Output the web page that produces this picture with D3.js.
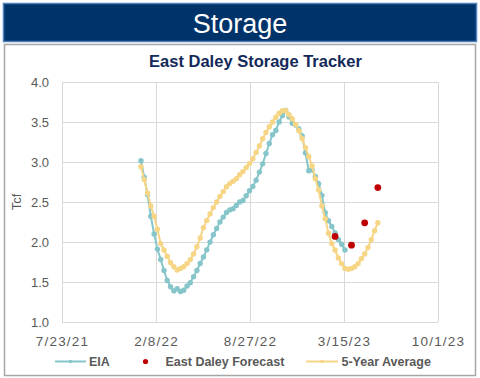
<!DOCTYPE html>
<html>
<head>
<meta charset="utf-8">
<script src="https://cdn.jsdelivr.net/npm/d3@7"></script>
<style>
  body { margin: 0; background: #fff; }
  svg { display: block; font-family: "Liberation Sans", Arial, sans-serif; }
</style>
</head>
<body>
<div id="chart"></div>
<script>
// weekly EIA storage, Tcf, starting week ending 2022-01-07
const eiaStart = "2022-01-07";
const eiaValues = [
  3.015, 2.809, 2.590, 2.322,
  2.100, 1.911, 1.782, 1.643,
  1.519, 1.440, 1.389, 1.415,
  1.382, 1.397, 1.450, 1.490, 1.567,
  1.643, 1.732, 1.812, 1.902,
  1.999, 2.091, 2.169, 2.251,
  2.311, 2.369, 2.401, 2.416, 2.457,
  2.501, 2.519, 2.579, 2.640,
  2.694, 2.771, 2.874, 2.977, 3.106,
  3.231, 3.342, 3.394, 3.501,
  3.580, 3.644, 3.564, 3.483,
  3.462, 3.412, 3.325, 3.112, 2.891,
  2.902, 2.820, 2.729, 2.583,
  2.366, 2.266, 2.195, 2.114,
  2.030, 1.972, 1.900
];

// weekly 5-year average, same start
const avgStart = "2022-01-07";
const avgValues = [
  2.94, 2.78, 2.61, 2.45,
  2.32, 2.16, 1.98, 1.90,
  1.82, 1.74, 1.69, 1.65,
  1.67, 1.69, 1.73, 1.78, 1.85,
  1.94, 2.05, 2.18, 2.27,
  2.35, 2.43, 2.50, 2.57,
  2.63, 2.69, 2.73, 2.76, 2.79,
  2.84, 2.88, 2.93, 2.98,
  3.04, 3.12, 3.20, 3.29, 3.37,
  3.44, 3.50, 3.56, 3.61,
  3.64, 3.64, 3.59, 3.54,
  3.47, 3.39, 3.29, 3.18, 3.07,
  2.95, 2.79, 2.65, 2.45,
  2.29, 2.11, 1.98, 1.90,
  1.80, 1.73, 1.67, 1.66, 1.67,
  1.69, 1.73, 1.79, 1.85,
  1.93, 2.03, 2.14, 2.24
];

const forecastDates = ["2023-02-24", "2023-03-31", "2023-04-28", "2023-05-26"];
const forecastValues = [2.07, 1.96, 2.24, 2.68];

const xTickDates = ["2021-07-23", "2022-02-08", "2022-08-27", "2023-03-15", "2023-10-01"];
const yTicks = [1.0, 1.5, 2.0, 2.5, 3.0, 3.5, 4.0];

const parse = d3.timeParse("%Y-%m-%d");
const fmt = d3.timeFormat("%-m/%-d/%y");
const weekly = (start, values) =>
  values.map((v, i) => ({ date: d3.timeDay.offset(parse(start), 7 * i), value: v }));

const eia = weekly(eiaStart, eiaValues);
const avg = weekly(avgStart, avgValues);
const forecast = forecastDates.map((d, i) => ({ date: parse(d), value: forecastValues[i] }));
const xTicks = xTickDates.map(parse);

const width = 480;
const height = 378;
const plot = { left: 62, right: 438, top: 82, bottom: 322 };

const colors = { eia: "#86c5c9", avg: "#f6d584", forecast: "#c00000" };

const svg = d3
  .select("#chart")
  .append("svg")
  .attr("width", width)
  .attr("height", height);

// header bar
svg.append("rect")
  .attr("x", 3.5).attr("y", 3.5)
  .attr("width", 473).attr("height", 38)
  .attr("fill", "#00336a")
  .attr("stroke", "#4f81bd")
  .attr("stroke-width", 1.5);

svg.append("text")
  .attr("x", 240).attr("y", 33)
  .attr("text-anchor", "middle")
  .attr("fill", "#fff")
  .attr("font-size", 27)
  .text("Storage");

// chart panel
svg.append("rect")
  .attr("x", 4.5).attr("y", 44.5)
  .attr("width", 471).attr("height", 331)
  .attr("fill", "#fff")
  .attr("stroke", "#a6a6a6")
  .attr("stroke-width", 1.5);

svg.append("text")
  .attr("x", 255.5).attr("y", 67)
  .attr("text-anchor", "middle")
  .attr("fill", "#13295a")
  .attr("font-size", 16.5)
  .attr("font-weight", "bold")
  .text("East Daley Storage Tracker");

const x = d3
  .scaleTime()
  .domain([xTicks[0], xTicks[xTicks.length - 1]])
  .range([plot.left, plot.right]);

const y = d3
  .scaleLinear()
  .domain([1, 4])
  .range([plot.bottom, plot.top]);

// gridlines
svg.append("g")
  .attr("transform", `translate(${plot.left},0)`)
  .call(d3.axisLeft(y).tickValues(yTicks).tickSize(-(plot.right - plot.left)).tickFormat(""))
  .call((g) => g.select(".domain").remove())
  .call((g) => g.selectAll("line").attr("stroke", "#d9d9d9"));

svg.append("g")
  .attr("transform", `translate(0,${plot.bottom})`)
  .call(d3.axisBottom(x).tickValues(xTicks).tickSize(-(plot.bottom - plot.top)).tickFormat(""))
  .call((g) => g.select(".domain").remove())
  .call((g) => g.selectAll("line").attr("stroke", "#d9d9d9"));

// axis labels
svg.append("g")
  .attr("transform", `translate(${plot.left},0)`)
  .call(d3.axisLeft(y).tickValues(yTicks).tickSize(0).tickPadding(13).tickFormat(d3.format(".1f")))
  .call((g) => g.select(".domain").remove())
  .call((g) => g.selectAll("text")
    .attr("fill", "#595959")
    .attr("font-size", 13)
    .attr("font-family", "Liberation Sans, Arial, sans-serif"));

svg.append("g")
  .attr("transform", `translate(0,${plot.bottom})`)
  .call(d3.axisBottom(x).tickValues(xTicks).tickSize(0).tickPadding(14).tickFormat(fmt))
  .call((g) => g.select(".domain").remove())
  .call((g) => g.selectAll("text")
    .attr("fill", "#595959")
    .attr("font-size", 13.5)
    .attr("letter-spacing", 1.2)
    .attr("font-family", "Liberation Sans, Arial, sans-serif"));

svg.append("text")
  .attr("transform", `translate(21,202) rotate(-90)`)
  .attr("text-anchor", "middle")
  .attr("fill", "#595959")
  .attr("font-size", 13)
  .text("Tcf");

// series
const line = d3
  .line()
  .x((d) => x(d.date))
  .y((d) => y(d.value));

const drawSeries = (data, color) => {
  svg.append("path")
    .datum(data)
    .attr("fill", "none")
    .attr("stroke", color)
    .attr("stroke-width", 2)
    .attr("stroke-linejoin", "round")
    .attr("d", line);

  svg.append("g")
    .selectAll("circle")
    .data(data)
    .join("circle")
    .attr("cx", (d) => x(d.date))
    .attr("cy", (d) => y(d.value))
    .attr("r", 2.7)
    .attr("fill", color);
};

drawSeries(eia, colors.eia);
drawSeries(avg, colors.avg);

svg.append("g")
  .selectAll("circle")
  .data(forecast)
  .join("circle")
  .attr("cx", (d) => x(d.date))
  .attr("cy", (d) => y(d.value))
  .attr("r", 3.4)
  .attr("fill", colors.forecast);

// legend
const legend = svg.append("g")
  .attr("font-size", 12.5)
  .attr("font-weight", "bold")
  .attr("fill", "#595959");

const legendY = 361.5;

legend.append("line")
  .attr("x1", 55).attr("x2", 86)
  .attr("y1", legendY).attr("y2", legendY)
  .attr("stroke", colors.eia).attr("stroke-width", 2);
legend.append("circle").attr("cx", 70.5).attr("cy", legendY).attr("r", 1.8).attr("fill", colors.eia);
legend.append("text").attr("x", 89).attr("y", legendY + 4.5).text("EIA");

legend.append("circle").attr("cx", 145.5).attr("cy", legendY).attr("r", 2.6).attr("fill", colors.forecast);
legend.append("text").attr("x", 165.5).attr("y", legendY + 4.5).text("East Daley Forecast");

legend.append("line")
  .attr("x1", 306).attr("x2", 338)
  .attr("y1", legendY).attr("y2", legendY)
  .attr("stroke", colors.avg).attr("stroke-width", 2);
legend.append("circle").attr("cx", 322).attr("cy", legendY).attr("r", 1.8).attr("fill", colors.avg);
legend.append("text").attr("x", 341.5).attr("y", legendY + 4.5).text("5-Year Average");
</script>
</body>
</html>
